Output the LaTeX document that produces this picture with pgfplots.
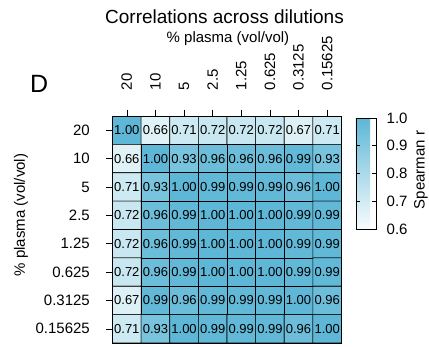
\documentclass[border=0pt]{standalone}
\usepackage{pgfplots}
\pgfplotsset{compat=1.18}
\usepackage{pgfplotstable}
\usepackage{fontspec}
\setmainfont{Liberation Sans}
\newcommand{\fsz}[1]{\fontsize{#1pt}{#1pt}\selectfont}
\pgfkeys{/pgf/number format/assume math mode=true}

% Spearman correlations between dilution levels (row = y, column = x)
\pgfplotstableread{
x y c
0 0 1.00
1 0 0.66
2 0 0.71
3 0 0.72
4 0 0.72
5 0 0.72
6 0 0.67
7 0 0.71
0 1 0.66
1 1 1.00
2 1 0.93
3 1 0.96
4 1 0.96
5 1 0.96
6 1 0.99
7 1 0.93
0 2 0.71
1 2 0.93
2 2 1.00
3 2 0.99
4 2 0.99
5 2 0.99
6 2 0.96
7 2 1.00
0 3 0.72
1 3 0.96
2 3 0.99
3 3 1.00
4 3 1.00
5 3 1.00
6 3 0.99
7 3 0.99
0 4 0.72
1 4 0.96
2 4 0.99
3 4 1.00
4 4 1.00
5 4 1.00
6 4 0.99
7 4 0.99
0 5 0.72
1 5 0.96
2 5 0.99
3 5 1.00
4 5 1.00
5 5 1.00
6 5 0.99
7 5 0.99
0 6 0.67
1 6 0.99
2 6 0.96
3 6 0.99
4 6 0.99
5 6 0.99
6 6 1.00
7 6 0.96
0 7 0.71
1 7 0.93
2 7 1.00
3 7 0.99
4 7 0.99
5 7 0.99
6 7 0.96
7 7 1.00
}\corr

\begin{document}
\begin{tikzpicture}
\useasboundingbox (0,0) rectangle (429pt,346pt);
\begin{axis}[
  at={(112.5pt,3pt)}, anchor=south west,
  scale only axis, width=229pt, height=227pt,
  xmin=-0.5, xmax=7.5, ymin=-0.5, ymax=7.5,
  y dir=reverse,
  axis line style={black, line width=0.8pt},
  xtick={0,...,7}, ytick={0,...,7},
  xticklabels={20,10,5,2.5,1.25,0.625,0.3125,0.15625},
  yticklabels={20,10,5,2.5,1.25,0.625,0.3125,0.15625},
  xtick pos=right, xticklabel pos=right,
  ytick pos=left, yticklabel pos=left,
  tick align=outside, major tick length=6.5pt,
  tick style={black, line width=0.6pt},
  xticklabel style={rotate=90, anchor=west, inner sep=0pt, font=\fsz{15}},
  yticklabel style={anchor=east, inner sep=0pt, font=\fsz{15}},
  xticklabel shift=19pt, yticklabel shift=16pt,
  colormap={corr}{rgb255(0cm)=(248,252,253); rgb255(1cm)=(94,183,214)},
  point meta min=0.6, point meta max=1.0,
  /pgf/number format/assume math mode=true,
  colorbar,
  colorbar shift/.style={xshift=14.5pt, yshift=-2pt},
  colorbar style={
    at={(parent axis.north east)}, anchor=north west,
    scale only axis, width=20pt, height=111pt,
    ytick={0.6,0.7,0.8,0.9,1.0},
    /pgf/number format/assume math mode=true,
    yticklabel={\pgfmathprintnumber[fixed,fixed zerofill,precision=1,assume math mode=true]{\tick}},
    yticklabel style={font=\fsz{15}, anchor=west, inner sep=0pt},
    yticklabel shift=10.5pt,
    ytick pos=both, yticklabel pos=right,
    tick align=inside, major tick length=4pt,
    tick style={black, line width=0.6pt},
    axis line style={black, line width=0.8pt},
  },
]
\addplot[matrix plot, shader=faceted, faceted color=black, line width=0.7pt,
  mesh/cols=8, mesh/rows=8, point meta=explicit]
  table[x=x, y=y, meta=c]{\corr};
\addplot[only marks, mark=none, point meta=explicit,
  nodes near coords={\pgfmathprintnumber[fixed,fixed zerofill,precision=2,assume math mode=true]{\pgfplotspointmeta}},
  nodes near coords align=center,
  every node near coord/.append style={font=\fsz{13}, black, inner sep=0pt, anchor=center}]
  table[x=x, y=y, meta=c]{\corr};
\end{axis}
\node[anchor=base, font=\fsz{19}, inner sep=0pt] at (224.5pt,322pt) {Correlations across dilutions};
\node[anchor=base, font=\fsz{15}, inner sep=0pt] at (228pt,303.3pt) {\% plasma (vol/vol)};
\node[anchor=base west, font=\fsz{25}, inner sep=0pt] at (30pt,253pt) {D};
\node[rotate=90, font=\fsz{15}, inner sep=0pt] at (21pt,131pt) {\% plasma (vol/vol)};
\node[rotate=90, font=\fsz{15}, inner sep=0pt] at (421pt,176pt) {Spearman r};
\end{tikzpicture}
\end{document}
